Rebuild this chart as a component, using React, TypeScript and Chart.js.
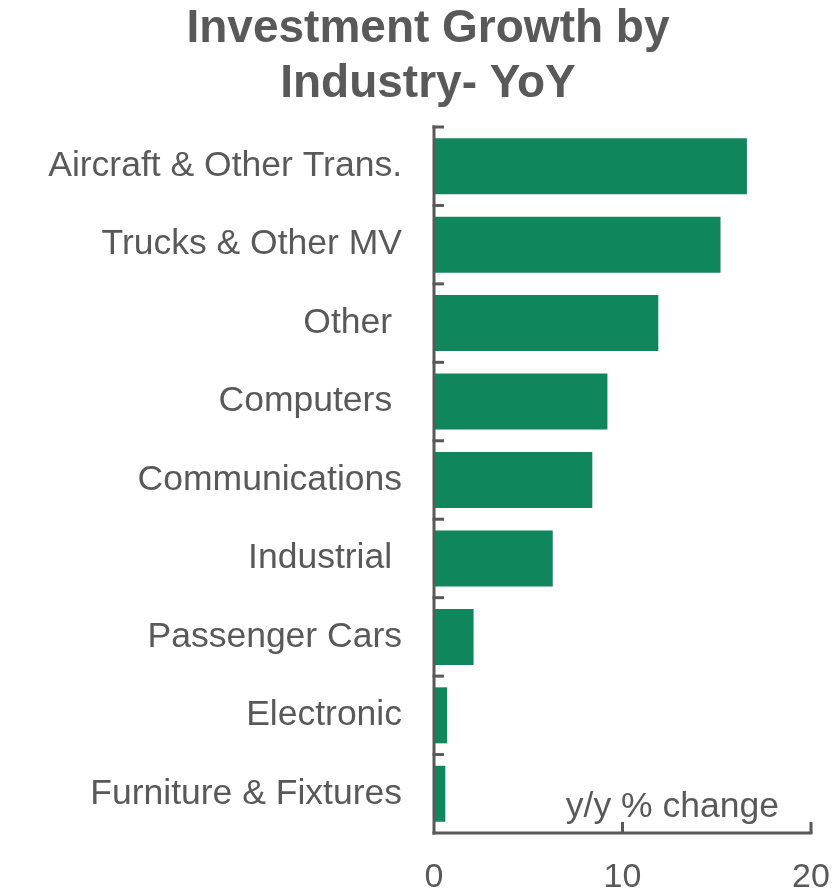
import React, { useEffect, useRef } from "react";
import { Chart, registerables } from "chart.js";

Chart.register(...registerables);

const categories = [
  "Aircraft & Other Trans.",
  "Trucks & Other MV",
  "Other ",
  "Computers ",
  "Communications",
  "Industrial ",
  "Passenger Cars",
  "Electronic",
  "Furniture & Fixtures",
];
const growthValues = [16.6, 15.2, 11.9, 9.2, 8.4, 6.3, 2.1, 0.7, 0.6];
const xTickValues = [0, 10, 20];
const titleLines = ["Investment Growth by", "Industry- YoY"];
const axisNote = "y/y % change";

const FONT = "'Liberation Sans', Arial, sans-serif";
const GREY = "#595959";
const GREEN = "#10865D";

const axesPlugin = {
  id: "customAxes",
  afterDatasetsDraw(chart: any) {
    const { ctx, chartArea, scales } = chart;
    const xs = scales.x;
    const ys = scales.y;
    const x0 = xs.getPixelForValue(0);
    const xMax = xs.getPixelForValue(xTickValues[xTickValues.length - 1]);
    const top = chartArea.top;
    const bottom = chartArea.bottom;
    ctx.save();
    ctx.strokeStyle = GREY;
    ctx.lineWidth = 3;
    ctx.lineCap = "butt";
    ctx.beginPath();
    ctx.moveTo(x0, top - 1.5);
    ctx.lineTo(x0, bottom + 1.5);
    ctx.stroke();
    const n = categories.length;
    for (let i = 0; i < n; i++) {
      const c = ys.getPixelForTick(i);
      const half = (bottom - top) / n / 2;
      const yb = c - half;
      ctx.beginPath();
      ctx.moveTo(x0 - 1.5, yb);
      ctx.lineTo(x0 + 10, yb);
      ctx.stroke();
    }
    ctx.beginPath();
    ctx.moveTo(x0 - 1.5, bottom);
    ctx.lineTo(xMax + 1.5, bottom);
    ctx.stroke();
    for (const v of xTickValues) {
      if (v === 0) continue;
      const px = xs.getPixelForValue(v);
      ctx.beginPath();
      ctx.moveTo(px, bottom);
      ctx.lineTo(px, bottom - 11);
      ctx.stroke();
    }
    ctx.fillStyle = GREY;
    ctx.font = `35.5px ${FONT}`;
    ctx.textAlign = "right";
    ctx.textBaseline = "alphabetic";
    ctx.fillText(axisNote, xs.getPixelForValue(18.3), bottom - 16);
    ctx.restore();
  },
};

export default function App() {
  const ref = useRef<HTMLCanvasElement | null>(null);

  useEffect(() => {
    if (!ref.current) return;
    const chart = new Chart(ref.current, {
      type: "bar",
      data: {
        labels: categories,
        datasets: [
          {
            data: growthValues,
            backgroundColor: GREEN,
            borderWidth: 0,
            barPercentage: 0.714,
            categoryPercentage: 1,
          },
        ],
      },
      options: {
        indexAxis: "y",
        responsive: false,
        animation: false,
        layout: { padding: { left: 45, right: 25, top: 0, bottom: 0 } },
        plugins: {
          legend: { display: false },
          tooltip: { enabled: false },
          title: {
            display: true,
            text: titleLines,
            color: GREY,
            font: { family: FONT, size: 46, weight: "bold", lineHeight: 1.2 },
            padding: { top: 2, bottom: 14.6 },
          },
        },
        scales: {
          x: {
            type: "linear",
            min: 0,
            max: 20,
            afterBuildTicks: (scale: any) => {
              scale.ticks = xTickValues.map((v) => ({ value: v }));
            },
            afterFit: (scale: any) => {
              scale.height = 59;
              scale.paddingLeft = 0;
              scale.paddingRight = 0;
            },
            grid: { display: false, drawTicks: false },
            border: { display: false },
            ticks: {
              color: GREY,
              font: { family: FONT, size: 34 },
              padding: 24,
              maxRotation: 0,
            },
          },
          y: {
            type: "category",
            afterFit: (scale: any) => {
              scale.width = 389;
              scale.paddingTop = 0;
              scale.paddingBottom = 0;
            },
            grid: { display: false, drawTicks: false },
            border: { display: false },
            ticks: {
              color: GREY,
              font: { family: FONT, size: 35.5 },
              padding: 32,
              autoSkip: false,
            },
          },
        },
      },
      plugins: [axesPlugin],
    } as any);
    return () => chart.destroy();
  }, []);

  return (
    <div style={{ position: "absolute", left: 0, top: 0, width: 836, height: 892 }}>
      <canvas ref={ref} width={836} height={892} style={{ display: "block" }} />
    </div>
  );
}
